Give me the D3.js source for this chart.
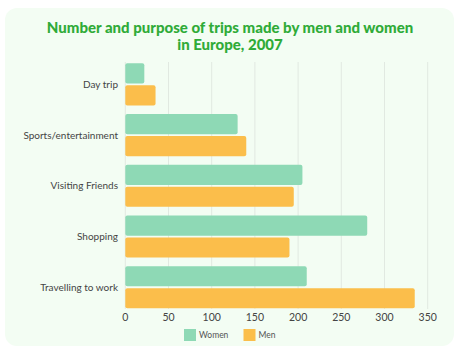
<!DOCTYPE html>
<html>
<head>
<meta charset="utf-8">
<script src="https://cdn.jsdelivr.net/npm/d3@7"></script>
<style>
  body { margin: 0; background: #fff; }
  text { font-family: Lato, "Noto Sans", sans-serif; }
</style>
</head>
<body>
<div id="chart"></div>
<script>
const categories = ['Day trip', 'Sports/entertainment', 'Visiting Friends', 'Shopping', 'Travelling to work'];
const series = ['Women', 'Men'];
const women = [22, 130, 205, 280, 210];
const men = [35, 140, 195, 190, 335];
const ticks = [0, 50, 100, 150, 200, 250, 300, 350];

const width = 473, height = 348;
const colors = { Women: '#8ed9b5', Men: '#fbbe4b' };

const svg = d3.select('#chart').append('svg')
    .attr('width', width)
    .attr('height', height);

// panel
svg.append('rect')
    .attr('x', 5).attr('y', 8)
    .attr('width', 449).attr('height', 338)
    .attr('rx', 12)
    .attr('fill', '#f3fdf3');

// title
const titleLines = ['Number and purpose of trips made by men and women', 'in Europe, 2007'];
svg.append('g').selectAll('text')
    .data(titleLines)
    .enter().append('text')
    .attr('x', 230)
    .attr('y', (d, i) => 33 + i * 17)
    .attr('text-anchor', 'middle')
    .attr('font-size', 15).attr('font-weight', 900)
    .attr('fill', '#2fab38')
    .text(d => d);

const x = d3.scaleLinear().domain([0, 350]).range([125.3, 427.7]);
const y = d3.scaleBand().domain(categories).range([63.3, 308.3]).paddingInner(0.17);
const ySub = d3.scaleBand().domain(series).range([0, y.bandwidth()]).paddingInner(0.08);

// gridlines
svg.append('g').selectAll('line')
    .data(ticks)
    .enter().append('line')
    .attr('x1', d => x(d)).attr('x2', d => x(d))
    .attr('y1', 62).attr('y2', 309)
    .attr('stroke', '#e1e9e1')
    .attr('stroke-width', 1);

// bars
const rows = categories.map((c, i) => ({ cat: c, Women: women[i], Men: men[i] }));
const groups = svg.append('g').selectAll('g')
    .data(rows)
    .enter().append('g')
    .attr('transform', d => `translate(0,${y(d.cat)})`);

groups.selectAll('rect')
    .data(d => series.map(s => ({ key: s, value: d[s] })))
    .enter().append('rect')
    .attr('x', x(0))
    .attr('y', d => ySub(d.key))
    .attr('width', d => x(d.value) - x(0))
    .attr('height', ySub.bandwidth())
    .attr('rx', 2)
    .attr('fill', d => colors[d.key]);

// category labels
svg.append('g').selectAll('text')
    .data(categories)
    .enter().append('text')
    .attr('x', 118)
    .attr('y', d => y(d) + y.bandwidth() / 2)
    .attr('dy', '0.35em')
    .attr('text-anchor', 'end')
    .attr('font-size', 10)
    .attr('fill', '#444')
    .text(d => d);

// x axis labels
svg.append('g').selectAll('text')
    .data(ticks)
    .enter().append('text')
    .attr('x', d => x(d))
    .attr('y', 321)
    .attr('text-anchor', 'middle')
    .attr('font-size', 10.5)
    .attr('fill', '#444')
    .text(d => d);

// legend
const legendX = { Women: 184, Men: 243.5 };
const legend = svg.append('g').selectAll('g')
    .data(series)
    .enter().append('g')
    .attr('transform', d => `translate(${legendX[d]},329)`);
legend.append('rect')
    .attr('width', 12).attr('height', 12)
    .attr('fill', d => colors[d]);
legend.append('text')
    .attr('x', 15).attr('y', 6)
    .attr('dy', '0.35em')
    .attr('font-size', 8.5)
    .attr('fill', '#555')
    .text(d => d);
</script>
</body>
</html>
